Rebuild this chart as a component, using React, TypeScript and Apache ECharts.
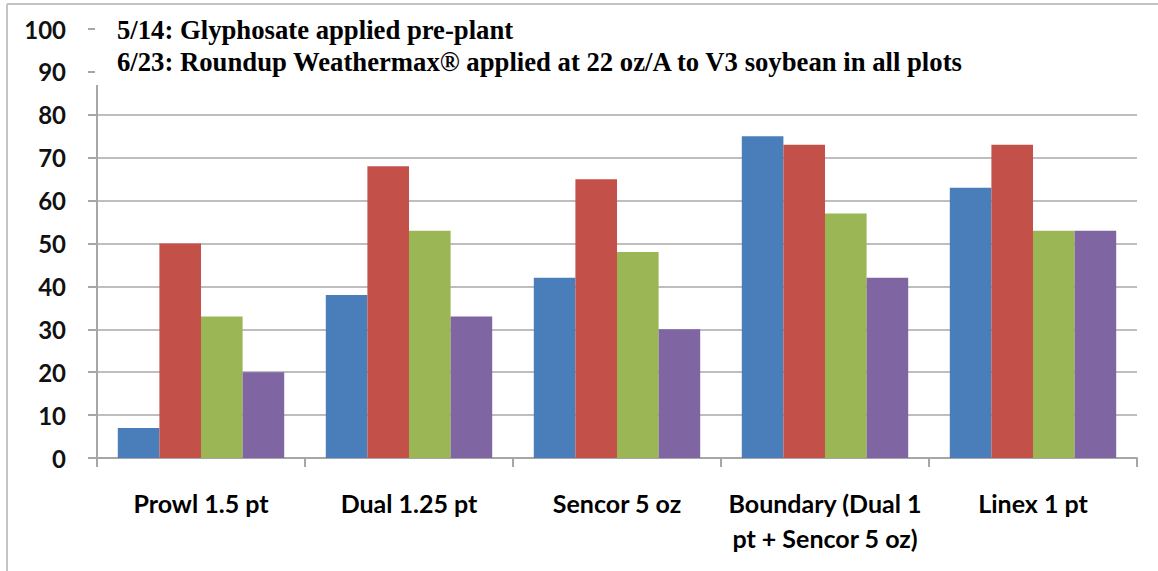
import React, { useEffect, useRef } from "react";
import * as echarts from "echarts";

const categories = [
  "Prowl 1.5 pt",
  "Dual 1.25 pt",
  "Sencor 5 oz",
  "Boundary (Dual 1\npt + Sencor 5 oz)",
  "Linex 1 pt",
];
const seriesA = [7, 38, 42, 75, 63];
const seriesB = [50, 68, 65, 73, 73];
const seriesC = [33, 53, 48, 57, 53];
const seriesD = [20, 33, 30, 42, 53];
const colors = ["#4A7EBB", "#C4504A", "#9BB755", "#7F65A2"];
const noteLines = [
  "5/14: Glyphosate applied pre-plant",
  "6/23: Roundup Weathermax® applied at 22 oz/A to V3 soybean in all plots",
];

export default function App() {
  const ref = useRef<HTMLDivElement>(null);
  useEffect(() => {
    document.body.style.margin = "0";
    const chart = echarts.init(ref.current!, null, { renderer: "svg" });
    const data = [seriesA, seriesB, seriesC, seriesD];
    chart.setOption({
      animation: false,
      backgroundColor: "#ffffff",
      grid: { left: 97, right: 21, top: 29, bottom: 113 },
      xAxis: {
        type: "category",
        data: categories,
        axisLine: { show: true, lineStyle: { color: "#A6A6A6", width: 2 } },
        axisTick: { show: true, length: 9, lineStyle: { color: "#A6A6A6", width: 2 } },
        axisLabel: {
          color: "#000",
          fontFamily: "Lato",
          fontWeight: "bold",
          fontSize: 25,
          margin: 27,
          lineHeight: 35,
          interval: 0,
        },
      },
      yAxis: {
        type: "value",
        min: 0,
        max: 100,
        interval: 10,
        axisLine: { show: true, lineStyle: { color: "#A6A6A6", width: 2 } },
        axisTick: { show: true, length: 9, lineStyle: { color: "#A6A6A6", width: 2 } },
        splitLine: { show: true, lineStyle: { color: "#BEBEBE", width: 2 } },
        axisLabel: {
          color: "#111",
          fontFamily: "Lato",
          fontWeight: "bold",
          fontSize: 24,
          margin: 31,
        },
      },
      series: data.map((d, i) => ({
        type: "bar",
        data: d,
        barGap: "0%",
        barCategoryGap: "20%",
        itemStyle: { color: colors[i] },
      })),
      graphic: [
        {
          type: "rect",
          shape: { x: 95, y: 7, width: 1052, height: 78 },
          style: { fill: "#ffffff" },
          z: 100,
        },
        {
          type: "line",
          shape: { x1: 7, y1: 4, x2: 1158, y2: 4 },
          style: { stroke: "#C4C4C4", lineWidth: 2 },
          z: 101,
        },
        {
          type: "line",
          shape: { x1: 7, y1: 4, x2: 7, y2: 571 },
          style: { stroke: "#C4C4C4", lineWidth: 2 },
          z: 101,
        },
        ...noteLines.map((t, i) => ({
          type: "text",
          x: 117,
          y: 30 + i * 32,
          style: {
            text: t,
            fill: "#000",
            font: "bold 26.7px 'Liberation Serif'",
            verticalAlign: "middle",
          },
          z: 102,
        })),
      ],
    });
    return () => chart.dispose();
  }, []);
  return <div ref={ref} style={{ width: 1158, height: 571 }} />;
}
